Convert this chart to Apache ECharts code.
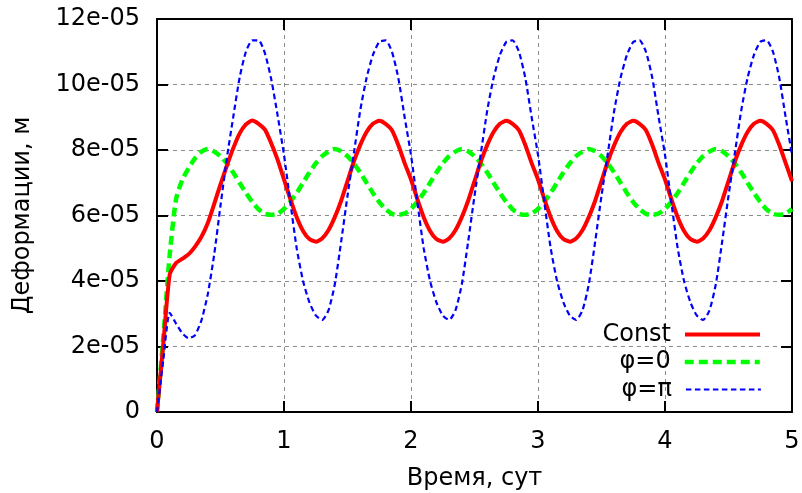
<!DOCTYPE html>
<html>
<head>
<meta charset="utf-8">
<script src="https://cdn.jsdelivr.net/npm/echarts@6/dist/echarts.min.js"></script>
<style>html,body{margin:0;padding:0;background:#fff;}#c{width:802px;height:493px;}</style>
</head>
<body>
<div id="c"></div>
<script>
// time step 0.05 days, 0..5
var timeStep = 0.05;
// values in units of 1e-05 m
var constSeries = [
0, 2.1, 4.2, 4.55, 4.68, 4.82, 5.05, 5.35, 5.77, 6.35, 6.95, 7.52, 8.05, 8.5, 8.78, 8.9, 8.8, 8.62, 8.2, 7.7,
7.1, 6.5, 5.95, 5.53, 5.28, 5.2, 5.3, 5.55, 5.95, 6.45, 7.05, 7.65, 8.15, 8.55, 8.8, 8.89, 8.8, 8.6, 8.15, 7.6,
7.1, 6.5, 5.95, 5.53, 5.28, 5.2, 5.3, 5.55, 5.95, 6.45, 7.05, 7.65, 8.15, 8.55, 8.8, 8.89, 8.8, 8.6, 8.15, 7.6,
7.1, 6.5, 5.95, 5.53, 5.28, 5.2, 5.3, 5.55, 5.95, 6.45, 7.05, 7.65, 8.15, 8.55, 8.8, 8.89, 8.8, 8.6, 8.15, 7.6,
7.1, 6.5, 5.95, 5.53, 5.28, 5.2, 5.3, 5.55, 5.95, 6.45, 7.05, 7.65, 8.15, 8.55, 8.8, 8.89, 8.8, 8.6, 8.15, 7.6,
7.05
];
var phi0Series = [
0, 2.3, 4.8, 6.5, 7.1, 7.45, 7.75, 7.95, 8.03, 7.95, 7.81, 7.59, 7.31, 7.0, 6.69, 6.41, 6.19, 6.05, 6.02, 6.05,
6.2, 6.42, 6.69, 7.0, 7.31, 7.59, 7.81, 7.95, 8.03, 7.96, 7.81, 7.59, 7.31, 7.0, 6.69, 6.41, 6.19, 6.05, 6.02, 6.06,
6.2, 6.42, 6.69, 7.0, 7.31, 7.59, 7.81, 7.95, 8.03, 7.96, 7.81, 7.59, 7.31, 7.0, 6.69, 6.41, 6.19, 6.05, 6.02, 6.06,
6.2, 6.42, 6.69, 7.0, 7.31, 7.59, 7.81, 7.95, 8.03, 7.96, 7.81, 7.59, 7.31, 7.0, 6.69, 6.41, 6.19, 6.05, 6.02, 6.06,
6.2, 6.42, 6.69, 7.0, 7.31, 7.59, 7.81, 7.95, 8.03, 7.96, 7.81, 7.59, 7.31, 7.0, 6.69, 6.41, 6.19, 6.05, 6.02, 6.06,
6.2
];
var phiPiSeries = [
0, 1.6, 3.03, 2.7, 2.4, 2.25, 2.35, 2.8, 3.6, 4.8, 6.3, 7.75, 9.0, 10.2, 11.0, 11.35, 11.35, 10.95, 10.15, 9.05,
7.85, 6.4, 5.0, 4.0, 3.35, 2.95, 2.81, 3.1, 3.9, 5.2, 6.6, 7.9, 9.2, 10.2, 10.9, 11.3, 11.35, 11.0, 10.2, 9.0,
7.85, 6.4, 5.0, 4.0, 3.35, 2.95, 2.81, 3.1, 3.9, 5.2, 6.6, 7.9, 9.2, 10.2, 10.9, 11.3, 11.35, 11.0, 10.2, 9.0,
7.85, 6.4, 5.0, 4.0, 3.35, 2.95, 2.81, 3.1, 3.9, 5.2, 6.6, 7.9, 9.2, 10.2, 10.9, 11.3, 11.35, 11.0, 10.2, 9.0,
7.85, 6.4, 5.0, 4.0, 3.35, 2.95, 2.81, 3.1, 3.9, 5.2, 6.6, 7.9, 9.2, 10.2, 10.9, 11.3, 11.35, 11.0, 10.2, 9.0,
7.85
];
var seriesNames = ['Const', 'φ=0', 'φ=π'];
var xTickLabels = ['0', '1', '2', '3', '4', '5'];
var yTickLabels = ['0', '2e-05', '4e-05', '6e-05', '8e-05', '10e-05', '12e-05'];
var xName = 'Время, сут';
var yName = 'Деформации, м';

function pairs(arr) {
  return arr.map(function (v, i) { return [+(i * timeStep).toFixed(2), v]; });
}

var FONT = 'DejaVu Sans';
var FS = 24;
var chart = echarts.init(document.getElementById('c'), null, { renderer: 'canvas' });

function gridLine() { return { show: true, lineStyle: { color: '#8a8a8a', width: 1, type: [4, 4] } }; }
function axLine() { return { show: true, onZero: false, lineStyle: { color: '#000', width: 2 } }; }
function axTick() { return { show: true, inside: true, length: 11, lineStyle: { color: '#000', width: 2 } }; }
function labelStyle(margin, fmt) {
  return { show: true, inside: false, fontFamily: FONT, fontSize: FS, color: '#000', margin: margin, formatter: fmt };
}

var styles = [
  { color: '#ff0000', width: 4, type: 'solid' },
  { color: '#00ff00', width: 4.5, type: [9, 5] },
  { color: '#0000ff', width: 2.2, type: [5.5, 3.5] }
];

chart.setOption({
  animation: false,
  backgroundColor: '#fff',
  grid: { left: 157, top: 19, right: 10, bottom: 81, containLabel: false, outerBoundsMode: 'none' },
  xAxis: [
    {
      type: 'value', min: 0, max: 5, interval: 1, position: 'bottom', gridIndex: 0,
      name: xName, nameLocation: 'middle', nameGap: 55,
      nameTextStyle: { fontFamily: FONT, fontSize: FS, color: '#000' },
      axisLine: axLine(), axisTick: axTick(), splitLine: gridLine(),
      axisLabel: labelStyle(18, function (v) { return xTickLabels[Math.round(v)]; })
    },
    {
      type: 'value', min: 0, max: 5, interval: 1, position: 'top', gridIndex: 0,
      axisLine: axLine(), axisTick: axTick(), splitLine: { show: false }, axisLabel: { show: false }
    }
  ],
  yAxis: [
    {
      type: 'value', min: 0, max: 12, interval: 2, position: 'left', gridIndex: 0,
      name: yName, nameLocation: 'middle', nameGap: 122, nameRotate: 90,
      nameTextStyle: { fontFamily: FONT, fontSize: FS, color: '#000' },
      axisLine: axLine(), axisTick: axTick(), splitLine: gridLine(),
      axisLabel: labelStyle(17, function (v) { return yTickLabels[Math.round(v / 2)]; })
    },
    {
      type: 'value', min: 0, max: 12, interval: 2, position: 'right', gridIndex: 0,
      axisLine: axLine(), axisTick: axTick(), splitLine: { show: false }, axisLabel: { show: false }
    }
  ],
  legend: [0, 1, 2].map(function (i) {
    return {
      data: [seriesNames[i]], right: 40, top: 322.5 + i * 27.5, align: 'right',
      padding: 0, itemWidth: 75, itemHeight: 20, itemGap: 0,
      itemStyle: { opacity: 0 },
      lineStyle: { color: styles[i].color, width: styles[i].width, type: styles[i].type },
      textStyle: { fontFamily: FONT, fontSize: FS, color: '#000', padding: [0, 9, 0, 0] },
      selectedMode: false
    };
  }),
  series: [
    { name: seriesNames[1], type: 'line', data: pairs(phi0Series), showSymbol: false, symbol: 'none', smooth: 0.2,
      lineStyle: styles[1], itemStyle: { color: styles[1].color }, z: 2 },
    { name: seriesNames[0], type: 'line', data: pairs(constSeries), showSymbol: false, symbol: 'none', smooth: 0.2,
      lineStyle: styles[0], itemStyle: { color: styles[0].color }, z: 3 },
    { name: seriesNames[2], type: 'line', data: pairs(phiPiSeries), showSymbol: false, symbol: 'none', smooth: 0.2,
      lineStyle: styles[2], itemStyle: { color: styles[2].color }, z: 4 }
  ]
});
</script>
</body>
</html>
